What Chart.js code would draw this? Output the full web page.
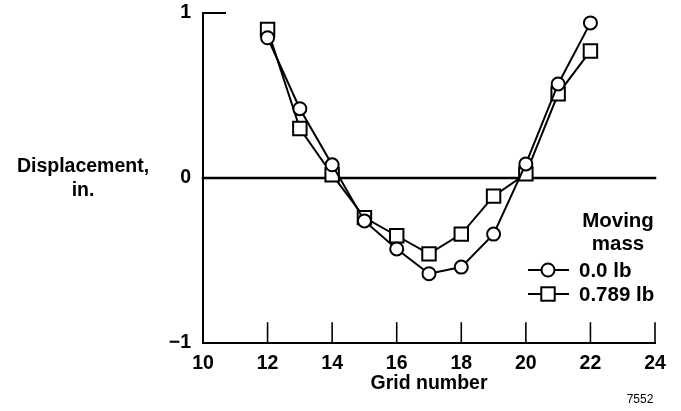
<!DOCTYPE html>
<html><head><meta charset="utf-8">
<script src="https://cdn.jsdelivr.net/npm/chart.js@4/dist/chart.umd.min.js"></script>
<style>html,body{margin:0;padding:0;background:#fff}#wrap{width:681px;height:411px}</style>
</head><body><div id="wrap"><canvas id="c" width="681" height="411"></canvas></div>
<script>
const gridNumbers=[12,13,14,15,16,17,18,19,20,21,22];
const mass0=[0.85,0.42,0.08,-0.26,-0.43,-0.58,-0.54,-0.34,0.085,0.57,0.94];
const mass789=[0.90,0.30,0.02,-0.24,-0.35,-0.46,-0.34,-0.11,0.025,0.51,0.77];
const xTicks=[10,12,14,16,18,20,22,24];
const yTicks=[-1,0,1];
const seriesLabels=['0.0 lb','0.789 lb'];
const legendTitle=['Moving','mass'];
const yTitle=['Displacement,','in.'];
const xTitle='Grid number';
const figNote='7552';

const FONT='"Liberation Sans", Arial, Helvetica, sans-serif';
const BOLD='bold 19.5px '+FONT;
const BOLDL='bold 20.5px '+FONT;

function line(ctx,x1,y1,x2,y2){ctx.beginPath();ctx.moveTo(x1,y1);ctx.lineTo(x2,y2);ctx.stroke();}

const axesPlugin={id:'axesPlugin',
 beforeDatasetsDraw(chart){
  const {ctx,chartArea:a,scales:{x,y}}=chart;
  ctx.save();ctx.strokeStyle='#000';ctx.lineCap='square';
  const y0=y.getPixelForValue(0), y1=y.getPixelForValue(yTicks[yTicks.length-1]);
  ctx.lineWidth=2.5;line(ctx,a.left,y0,a.right,y0);
  ctx.lineWidth=2;
  line(ctx,a.left,y1,a.left,a.bottom);
  line(ctx,a.left,a.bottom,a.right,a.bottom);
  line(ctx,a.left,y1,a.left+22,y1);
  ctx.lineWidth=1.6;
  xTicks.forEach(v=>{if(v===x.min)return;const px=x.getPixelForValue(v);line(ctx,px,a.bottom,px,a.bottom-20);});
  ctx.restore();
 },
 afterDraw(chart){
  const {ctx,chartArea:a}=chart;
  ctx.save();ctx.fillStyle='#000';ctx.textBaseline='middle';
  ctx.font=BOLD;ctx.textAlign='center';
  ctx.fillText(yTitle[0],83,167);
  ctx.fillText(yTitle[1],83,191);
  ctx.fillText(xTitle,(a.left+a.right)/2,384);
  ctx.font=BOLDL;
  ctx.fillText(legendTitle[0],618,221);
  ctx.fillText(legendTitle[1],618,244);
  const ds=chart.data.datasets;
  [270,294].forEach((ly,i)=>{
    const d=ds[i];
    ctx.strokeStyle='#000';ctx.lineWidth=2;
    line(ctx,528,ly,569,ly);
    ctx.fillStyle='#fff';ctx.lineWidth=2;
    if(d.pointStyle==='circle'){ctx.beginPath();ctx.arc(548,ly,d.pointRadius,0,Math.PI*2);ctx.fill();ctx.stroke();}
    else{const r=d.pointRadius*Math.SQRT1_2;ctx.fillRect(548-r,ly-r,2*r,2*r);ctx.strokeRect(548-r,ly-r,2*r,2*r);}
    ctx.fillStyle='#000';ctx.textAlign='left';ctx.font=BOLDL;
    ctx.fillText(d.label,579,ly+1);
  });
  ctx.font='12px '+FONT;ctx.textAlign='center';
  ctx.fillText(figNote,640,400);
  ctx.restore();
 }};

new Chart(document.getElementById('c'),{
 type:'line',
 data:{datasets:[
  {label:seriesLabels[0],data:gridNumbers.map((g,i)=>({x:g,y:mass0[i]})),borderColor:'#000',borderWidth:2,
   pointStyle:'circle',pointRadius:6.5,pointBorderWidth:2,pointBackgroundColor:'#fff',pointBorderColor:'#000',tension:0,fill:false},
  {label:seriesLabels[1],data:gridNumbers.map((g,i)=>({x:g,y:mass789[i]})),borderColor:'#000',borderWidth:2,
   pointStyle:'rect',pointRadius:9.5,pointBorderWidth:2,pointBackgroundColor:'#fff',pointBorderColor:'#000',tension:0,fill:false}
 ]},
 options:{responsive:false,animation:false,devicePixelRatio:1,
  layout:{padding:{left:0,right:26,top:13,bottom:0}},
  plugins:{legend:{display:false},tooltip:{enabled:false}},
  scales:{
   x:{type:'linear',min:10,max:24,afterBuildTicks:s=>{s.ticks=xTicks.map(v=>({value:v}));},
      grid:{display:false,drawTicks:false},border:{display:false},
      ticks:{font:{family:FONT,size:19.5,weight:'bold'},color:'#000',padding:9,maxRotation:0,autoSkip:false},
      afterFit:s=>{s.height=68;s.paddingLeft=0;s.paddingRight=0;}},
   y:{type:'linear',min:-1,max:1,afterBuildTicks:s=>{s.ticks=yTicks.map(v=>({value:v}));},
      grid:{display:false,drawTicks:false},border:{display:false},
      ticks:{font:{family:FONT,size:19.5,weight:'bold'},color:'#000',padding:12,
        callback:v=>v<0?'\u2212'+Math.abs(v):String(v)},
      afterFit:s=>{s.width=203;s.paddingTop=0;s.paddingBottom=0;}}
  }},
 plugins:[axesPlugin]
});
</script></body></html>
